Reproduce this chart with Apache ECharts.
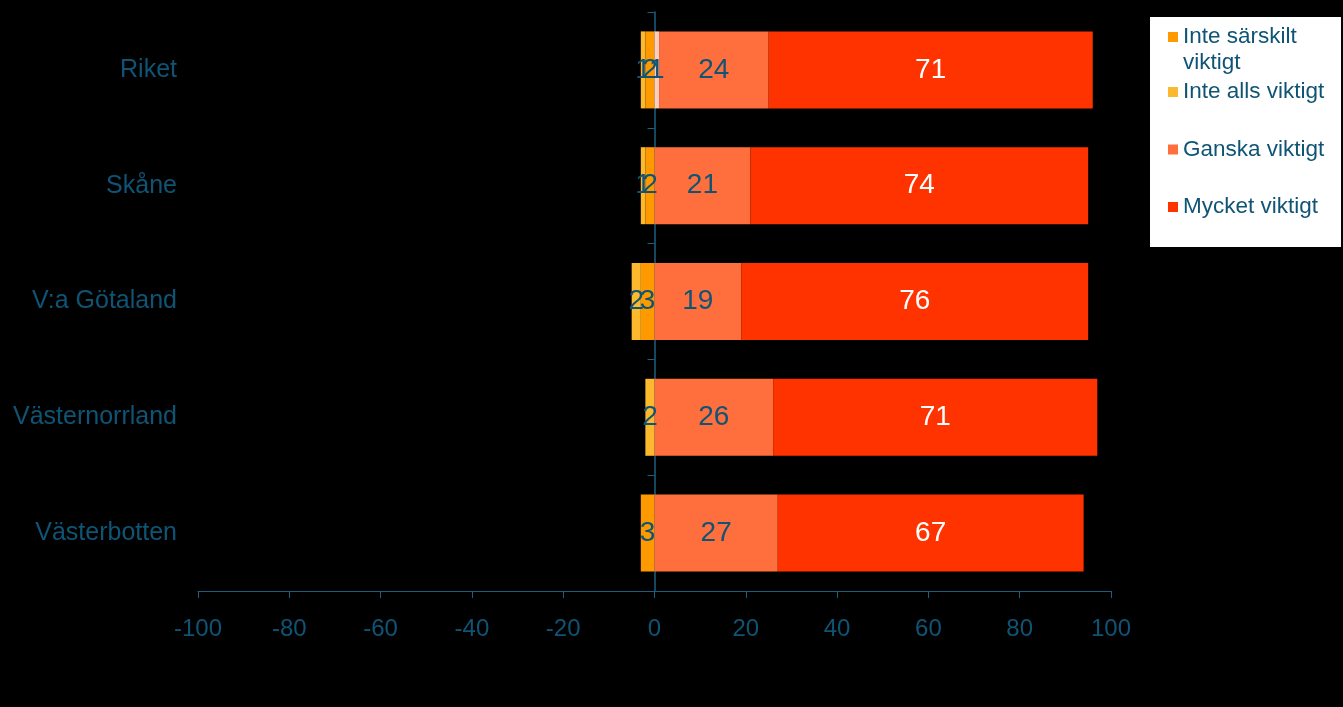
<!DOCTYPE html>
<html>
<head>
<meta charset="utf-8">
<script src="https://cdn.jsdelivr.net/npm/echarts@6/dist/echarts.min.js"></script>
<style>
html,body{margin:0;padding:0;background:#000;}
#chart{width:1343px;height:707px;}
</style>
</head>
<body>
<div id="chart"></div>
<script>
var categories = ['Riket', 'Skåne', 'V:a Götaland', 'Västernorrland', 'Västerbotten'];
var inteSarskilt = [-2, -2, -3, 0, -3];
var inteAlls = [-1, -1, -2, -2, 0];
var ovrigt = [1, 0, 0, 0, 0];
var ganska = [24, 21, 19, 26, 27];
var mycket = [71, 74, 76, 71, 67];
var xTicks = { min: -100, max: 100, interval: 20 };

var FONT = 'Liberation Sans, Arial, sans-serif';
var TEAL = '#0F5475';
var LINE = '#1B5F80';

function lbl(color) {
  return {
    show: true,
    position: 'inside',
    color: color,
    fontSize: 28,
    fontFamily: FONT,
    formatter: function (p) { return p.value === 0 ? '' : String(Math.abs(p.value)); }
  };
}
function series(name, data, color, labelColor) {
  return {
    name: name, type: 'bar', stack: 'total', data: data,
    barWidth: 77,
    itemStyle: { color: color },
    label: lbl(labelColor),
    emphasis: { disabled: true }
  };
}

var chart = echarts.init(document.getElementById('chart'));
chart.setOption({
  backgroundColor: '#000',
  animation: false,
  grid: { left: 198, right: 232, top: 12, bottom: 116, containLabel: false, outerBoundsMode: 'none' },
  graphic: [{
    type: 'rect', left: 1150, top: 17, z: -1,
    shape: { width: 191, height: 230 },
    style: { fill: '#ffffff' }
  }],
  legend: [{
    data: ['Inte särskilt viktigt'],
    orient: 'vertical', left: 1168, top: -2, padding: 0,
    icon: 'rect', itemWidth: 10, itemHeight: 10,
    formatter: function () { return '\nInte särskilt\nviktigt'; },
    textStyle: { color: TEAL, fontSize: 22.5, lineHeight: 26, fontFamily: FONT }
  }, {
    data: ['Inte alls viktigt', 'Ganska viktigt', 'Mycket viktigt'],
    orient: 'vertical', left: 1168, top: 79, padding: 0, itemGap: 31.5,
    icon: 'rect', itemWidth: 10, itemHeight: 10,
    textStyle: { color: TEAL, fontSize: 22.5, lineHeight: 26, fontFamily: FONT }
  }],
  xAxis: {
    type: 'value', min: xTicks.min, max: xTicks.max, interval: xTicks.interval,
    splitLine: { show: false },
    axisLine: { show: true, lineStyle: { color: LINE, width: 1 } },
    axisTick: { show: true, length: 7, lineStyle: { color: LINE } },
    axisLabel: { color: TEAL, fontSize: 24, fontFamily: FONT, margin: 26 }
  },
  yAxis: [{
    type: 'category', inverse: true, data: categories, position: 'left',
    axisLine: { show: false, onZero: false },
    axisTick: { show: false },
    axisLabel: { color: TEAL, fontSize: 25, fontFamily: FONT, margin: 21, align: 'right' }
  }, {
    type: 'category', inverse: true, data: categories, position: 'left',
    axisLine: { show: true, onZero: true, lineStyle: { color: LINE, width: 1.5 } },
    axisTick: { show: true, length: 7, lineStyle: { color: LINE } },
    axisLabel: { show: false }
  }],
  series: [
    series('Inte särskilt viktigt', inteSarskilt, '#FF9900', TEAL),
    series('Inte alls viktigt', inteAlls, '#FDB92D', TEAL),
    series('Övrigt', ovrigt, '#FFCDBB', TEAL),
    series('Ganska viktigt', ganska, '#FF6F3D', TEAL),
    series('Mycket viktigt', mycket, '#FF3300', '#ffffff')
  ]
});
</script>
</body>
</html>
